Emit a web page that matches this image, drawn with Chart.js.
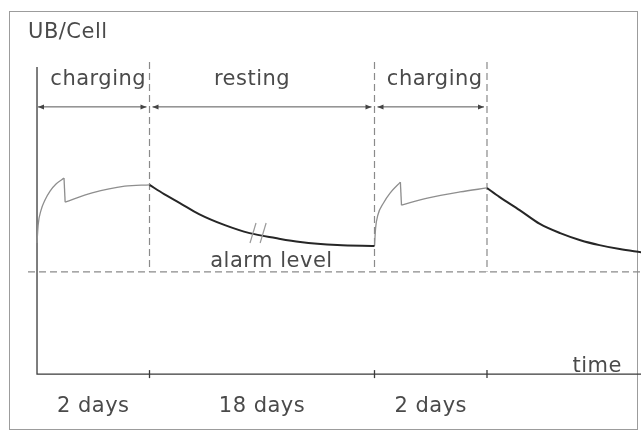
<!DOCTYPE html>
<html>
<head>
<meta charset="utf-8">
<script src="https://cdn.jsdelivr.net/npm/chart.js@4/dist/chart.umd.min.js"></script>
<style>
  html, body { margin: 0; padding: 0; background: #fff; }
  #wrap { position: relative; width: 641px; height: 434px; }
  #frame { position: absolute; left: 9px; top: 11px; width: 629px; height: 419px;
           border: 1.5px solid #9c9c9c; box-sizing: border-box; }
  canvas { position: absolute; left: 0; top: 0; }
</style>
</head>
<body>
<div id="wrap"><div id="frame"></div><canvas id="chart" width="641" height="434"></canvas></div>
<script>
// schematic units: one charging phase = 1, resting = 2 (axis is broken)
const phaseBounds = [0, 1, 3, 4];
const phaseLabels = ['charging', 'resting', 'charging'];
const durationLabels = ['2 days', '18 days', '2 days'];
const alarmLevel = 33.3;

const charge1Rise = [[0, 42.7], [0.01, 48.5], [0.036, 53.4], [0.071, 56.7], [0.116, 59.6],
                     [0.169, 61.9], [0.24, 63.8]];
const charge1Top = [[0.25, 56.0], [0.49, 59.0], [0.78, 61.2], [1.0, 61.6]];
const rest1 = [[1.0, 61.6], [1.13, 58.6], [1.27, 55.7], [1.44, 52.1], [1.67, 48.5],
               [1.89, 45.9], [2.12, 44.3], [2.34, 43.0], [2.67, 42.0], [3.0, 41.7]];
const charge2Rise = [[3.0, 41.7], [3.01, 47.6], [3.03, 51.8], [3.08, 55.7], [3.14, 59.0],
                     [3.23, 62.5]];
const charge2Top = [[3.24, 55.0], [3.47, 57.3], [3.76, 59.3], [4.0, 60.6]];
const rest2 = [[4.0, 60.6], [4.11, 57.7], [4.29, 53.4], [4.47, 48.9], [4.65, 45.9],
               [4.83, 43.6], [5.0, 42.0], [5.18, 40.7], [5.37, 39.7]];

const GREY = '#8e8e8e';
const DARK = '#262626';
const TEXT = '#4a4a4a';

function line(points, color, width, smooth) {
  return {
    data: points.map(([x, y]) => ({ x, y })),
    borderColor: color,
    borderWidth: width,
    pointRadius: 0,
    fill: false,
    tension: 0,
    cubicInterpolationMode: smooth ? 'monotone' : 'default',
  };
}

const datasets = [
  line(charge1Rise, GREY, 1.3, true),
  line([charge1Rise[charge1Rise.length - 1], charge1Top[0]], GREY, 1.3, false),
  line(charge1Top, GREY, 1.3, true),
  line(rest1, DARK, 2, true),
  line(charge2Rise, GREY, 1.3, true),
  line([charge2Rise[charge2Rise.length - 1], charge2Top[0]], GREY, 1.3, false),
  line(charge2Top, GREY, 1.3, true),
  line(rest2, DARK, 2, true),
];

function arrowHead(ctx, x, y, dir) {
  ctx.beginPath();
  ctx.moveTo(x, y);
  ctx.lineTo(x - dir * 6, y - 2.5);
  ctx.lineTo(x - dir * 6, y + 2.5);
  ctx.closePath();
  ctx.fill();
}

const decor = {
  id: 'decor',
  beforeDatasetsDraw(chart) {
    const { ctx } = chart;
    const xs = chart.scales.x, ys = chart.scales.y;
    const px = (v) => xs.getPixelForValue(v);
    const py = (v) => ys.getPixelForValue(v);
    const x0 = px(0), y0 = py(0);

    ctx.save();
    // axes
    ctx.strokeStyle = '#3a3a3a';
    ctx.lineWidth = 1.3;
    ctx.beginPath();
    ctx.moveTo(x0, py(100));
    ctx.lineTo(x0, y0);
    ctx.lineTo(xs.right, y0);
    ctx.stroke();
    // ticks on the time axis
    phaseBounds.slice(1).forEach((b) => {
      ctx.beginPath();
      ctx.moveTo(px(b), y0 - 4);
      ctx.lineTo(px(b), y0 + 4);
      ctx.stroke();
    });

    // dashed phase boundaries and alarm level
    ctx.strokeStyle = '#8a8a8a';
    ctx.lineWidth = 1.2;
    ctx.setLineDash([7, 4]);
    phaseBounds.slice(1).forEach((b) => {
      ctx.beginPath();
      ctx.moveTo(px(b), py(101.6));
      ctx.lineTo(px(b), py(alarmLevel));
      ctx.stroke();
    });
    ctx.beginPath();
    ctx.moveTo(x0 - 9, py(alarmLevel));
    ctx.lineTo(xs.right, py(alarmLevel));
    ctx.stroke();
    ctx.setLineDash([]);

    // dimension arrows
    ctx.strokeStyle = '#555';
    ctx.fillStyle = '#444';
    ctx.lineWidth = 1;
    const ay = py(87);
    for (let i = 0; i < phaseLabels.length; i++) {
      const a = px(phaseBounds[i]) + (i === 0 ? 1 : 3);
      const b = px(phaseBounds[i + 1]) - 3;
      ctx.beginPath();
      ctx.moveTo(a, ay);
      ctx.lineTo(b, ay);
      ctx.stroke();
      arrowHead(ctx, a, ay, -1);
      arrowHead(ctx, b, ay, 1);
    }
    ctx.restore();
  },
  afterDatasetsDraw(chart) {
    const { ctx } = chart;
    const xs = chart.scales.x, ys = chart.scales.y;
    const px = (v) => xs.getPixelForValue(v);
    const py = (v) => ys.getPixelForValue(v);

    ctx.save();
    // break marks on the resting curve
    ctx.strokeStyle = '#9a9a9a';
    ctx.lineWidth = 1.2;
    [1.92, 2.01].forEach((c) => {
      ctx.beginPath();
      ctx.moveTo(px(c) + 3, py(45.6) - 11);
      ctx.lineTo(px(c) - 3, py(45.6) + 9);
      ctx.stroke();
    });

    ctx.fillStyle = TEXT;
    ctx.font = '21px "DejaVu Sans"';
    ctx.letterSpacing = '0.5px';
    ctx.textBaseline = 'alphabetic';

    ctx.textAlign = 'left';
    ctx.fillText('UB/Cell', px(-0.08), py(109.4));
    ctx.fillText('alarm level', px(1.54), py(34.9));

    ctx.textAlign = 'right';
    ctx.fillText('time', px(5.2), py(0.65));

    ctx.textAlign = 'center';
    const nudge = [5, -10, 4];
    phaseLabels.forEach((t, i) => {
      const mid = (phaseBounds[i] + phaseBounds[i + 1]) / 2;
      ctx.fillText(t, px(mid) + nudge[i], py(94.1));
    });
    durationLabels.forEach((t, i) => {
      const mid = (phaseBounds[i] + phaseBounds[i + 1]) / 2;
      ctx.fillText(t, px(mid), py(-12.4));
    });
    ctx.restore();
  },
};

new Chart(document.getElementById('chart'), {
  type: 'line',
  data: { datasets },
  options: {
    responsive: false,
    animation: false,
    layout: { padding: 0 },
    scales: {
      x: { type: 'linear', min: -0.329, max: 5.369, display: false },
      y: { type: 'linear', min: -19.5, max: 121.8, display: false },
    },
    plugins: {
      legend: { display: false },
      tooltip: { enabled: false },
    },
  },
  plugins: [decor],
});
</script>
</body>
</html>
